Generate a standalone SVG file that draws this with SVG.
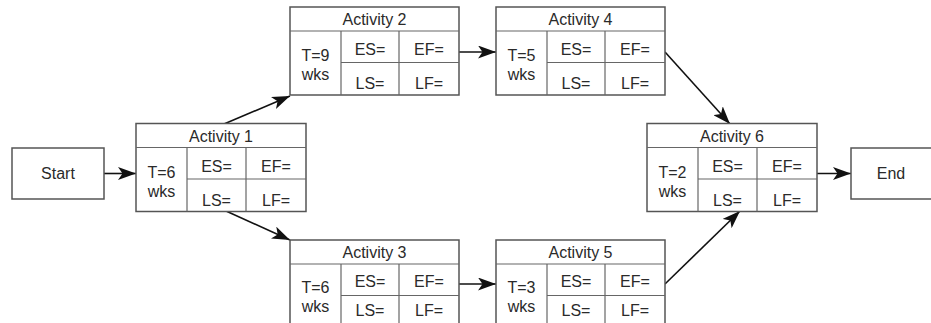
<svg xmlns="http://www.w3.org/2000/svg" width="931" height="323" viewBox="0 0 931 323">
<style>
.bx{fill:#fff;stroke:#555;stroke-width:1.5}
.dv{stroke:#666;stroke-width:1.2;fill:none}
.t{font-family:"Liberation Sans",Arial,sans-serif;font-size:16px;fill:#2a2a2a;text-anchor:middle}
.cn{stroke:#111;stroke-width:1.6;fill:none;marker-end:url(#ah)}
</style>
<defs>
<marker id="ah" markerUnits="userSpaceOnUse" markerWidth="19" markerHeight="13" refX="18" refY="6.5" orient="auto">
<path d="M0,0 L18,6.5 L0,13 L4.5,6.5 z" fill="#111"/>
</marker>
</defs>
<g id="connectors">
<line class="cn" x1="104" y1="173.5" x2="136" y2="173.5"/>
<line class="cn" x1="224" y1="124" x2="290" y2="96"/>
<line class="cn" x1="226" y1="211" x2="290" y2="240"/>
<line class="cn" x1="459" y1="52" x2="496" y2="52"/>
<line class="cn" x1="459" y1="284" x2="496" y2="284"/>
<line class="cn" x1="665" y1="52" x2="730" y2="124"/>
<line class="cn" x1="665" y1="284" x2="740" y2="211"/>
<line class="cn" x1="817" y1="173.5" x2="851" y2="173.5"/>
</g>
<g id="start">
<rect class="bx" x="12" y="148" width="92" height="51"/>
<text class="t" x="58" y="179">Start</text>
</g>
<g id="end">
<rect class="bx" x="851" y="148" width="82" height="51"/>
<text class="t" x="891" y="179">End</text>
</g>
<g id="activity1" transform="translate(136,123.5)">
<rect class="bx" x="0" y="0" width="170" height="88"/>
<line class="dv" x1="0" y1="24" x2="170" y2="24"/>
<line class="dv" x1="51" y1="24" x2="51" y2="88"/>
<line class="dv" x1="110" y1="24" x2="110" y2="88"/>
<line class="dv" x1="51" y1="55.5" x2="170" y2="55.5"/>
<text class="t" x="85" y="18">Activity 1</text>
<text class="t" x="80.5" y="48">ES=</text>
<text class="t" x="140" y="48">EF=</text>
<text class="t" x="80.5" y="82">LS=</text>
<text class="t" x="140" y="82">LF=</text>
<text class="t" x="25.5" y="54">T=6</text>
<text class="t" x="25.5" y="73">wks</text>
</g>
<g id="activity2" transform="translate(290,7)">
<rect class="bx" x="0" y="0" width="169" height="88"/>
<line class="dv" x1="0" y1="24" x2="169" y2="24"/>
<line class="dv" x1="51" y1="24" x2="51" y2="88"/>
<line class="dv" x1="109" y1="24" x2="109" y2="88"/>
<line class="dv" x1="51" y1="55.5" x2="169" y2="55.5"/>
<text class="t" x="84.5" y="18">Activity 2</text>
<text class="t" x="80" y="48">ES=</text>
<text class="t" x="139" y="48">EF=</text>
<text class="t" x="80" y="82">LS=</text>
<text class="t" x="139" y="82">LF=</text>
<text class="t" x="25.5" y="54">T=9</text>
<text class="t" x="25.5" y="73">wks</text>
</g>
<g id="activity4" transform="translate(496,7)">
<rect class="bx" x="0" y="0" width="169" height="88"/>
<line class="dv" x1="0" y1="24" x2="169" y2="24"/>
<line class="dv" x1="51" y1="24" x2="51" y2="88"/>
<line class="dv" x1="109" y1="24" x2="109" y2="88"/>
<line class="dv" x1="51" y1="55.5" x2="169" y2="55.5"/>
<text class="t" x="84.5" y="18">Activity 4</text>
<text class="t" x="80" y="48">ES=</text>
<text class="t" x="139" y="48">EF=</text>
<text class="t" x="80" y="82">LS=</text>
<text class="t" x="139" y="82">LF=</text>
<text class="t" x="25.5" y="54">T=5</text>
<text class="t" x="25.5" y="73">wks</text>
</g>
<g id="activity3" transform="translate(290,240)">
<rect class="bx" x="0" y="0" width="169" height="88"/>
<line class="dv" x1="0" y1="24" x2="169" y2="24"/>
<line class="dv" x1="51" y1="24" x2="51" y2="88"/>
<line class="dv" x1="109" y1="24" x2="109" y2="88"/>
<line class="dv" x1="51" y1="55.5" x2="169" y2="55.5"/>
<text class="t" x="84.5" y="18">Activity 3</text>
<text class="t" x="80" y="47">ES=</text>
<text class="t" x="139" y="47">EF=</text>
<text class="t" x="80" y="76">LS=</text>
<text class="t" x="139" y="76">LF=</text>
<text class="t" x="25.5" y="53">T=6</text>
<text class="t" x="25.5" y="72">wks</text>
</g>
<g id="activity5" transform="translate(496,240)">
<rect class="bx" x="0" y="0" width="169" height="88"/>
<line class="dv" x1="0" y1="24" x2="169" y2="24"/>
<line class="dv" x1="51" y1="24" x2="51" y2="88"/>
<line class="dv" x1="109" y1="24" x2="109" y2="88"/>
<line class="dv" x1="51" y1="55.5" x2="169" y2="55.5"/>
<text class="t" x="84.5" y="18">Activity 5</text>
<text class="t" x="80" y="47">ES=</text>
<text class="t" x="139" y="47">EF=</text>
<text class="t" x="80" y="76">LS=</text>
<text class="t" x="139" y="76">LF=</text>
<text class="t" x="25.5" y="53">T=3</text>
<text class="t" x="25.5" y="72">wks</text>
</g>
<g id="activity6" transform="translate(647,123.5)">
<rect class="bx" x="0" y="0" width="170" height="88"/>
<line class="dv" x1="0" y1="24" x2="170" y2="24"/>
<line class="dv" x1="51" y1="24" x2="51" y2="88"/>
<line class="dv" x1="110" y1="24" x2="110" y2="88"/>
<line class="dv" x1="51" y1="55.5" x2="170" y2="55.5"/>
<text class="t" x="85" y="18">Activity 6</text>
<text class="t" x="80.5" y="48">ES=</text>
<text class="t" x="140" y="48">EF=</text>
<text class="t" x="80.5" y="82">LS=</text>
<text class="t" x="140" y="82">LF=</text>
<text class="t" x="25.5" y="54">T=2</text>
<text class="t" x="25.5" y="73">wks</text>
</g>
</svg>
